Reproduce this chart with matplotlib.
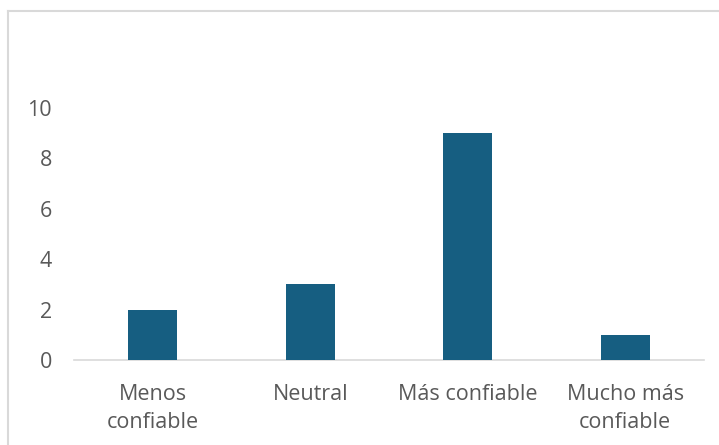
import matplotlib.pyplot as plt
from matplotlib.lines import Line2D

categories = ["Menos\nconfiable", "Neutral", "Más confiable", "Mucho más\nconfiable"]
values = [2, 3, 9, 1]
y_ticks = [0, 2, 4, 6, 8, 10]

BAR_COLOR = "#165E81"
TEXT_COLOR = "#595959"
LINE_COLOR = "#D9D9D9"

plt.rcParams["font.family"] = ["Open Sans", "DejaVu Sans"]

fig = plt.figure(figsize=(7.19, 4.45), dpi=100)
W, H = 719, 445
ax = fig.add_axes([74 / W, (H - 360) / H, (704 - 74) / W, (360 - 108) / H])

x = list(range(len(categories)))
ax.bar(x, values, width=0.31, color=BAR_COLOR, zorder=3)

ax.set_xlim(-0.5, len(categories) - 0.5)
ax.set_ylim(0, 10)
ax.set_yticks(y_ticks)
ax.set_xticks(x)
ax.set_xticklabels(categories, linespacing=1.45)

for side in ["top", "right", "left"]:
    ax.spines[side].set_visible(False)
ax.spines["bottom"].set_color(LINE_COLOR)
ax.spines["bottom"].set_linewidth(1.2)

ax.tick_params(axis="both", length=0, labelsize=15.5, labelcolor=TEXT_COLOR)
ax.tick_params(axis="y", pad=16)
ax.tick_params(axis="x", pad=17)

# chart border (only left and top visible in the crop)
fig.add_artist(Line2D([8 / W, 8 / W], [0, 1 - 11 / H], transform=fig.transFigure,
                      color=LINE_COLOR, linewidth=1.5))
fig.add_artist(Line2D([8 / W, 1], [1 - 11 / H, 1 - 11 / H], transform=fig.transFigure,
                      color=LINE_COLOR, linewidth=1.5))

fig.savefig("out.png", dpi=100)
